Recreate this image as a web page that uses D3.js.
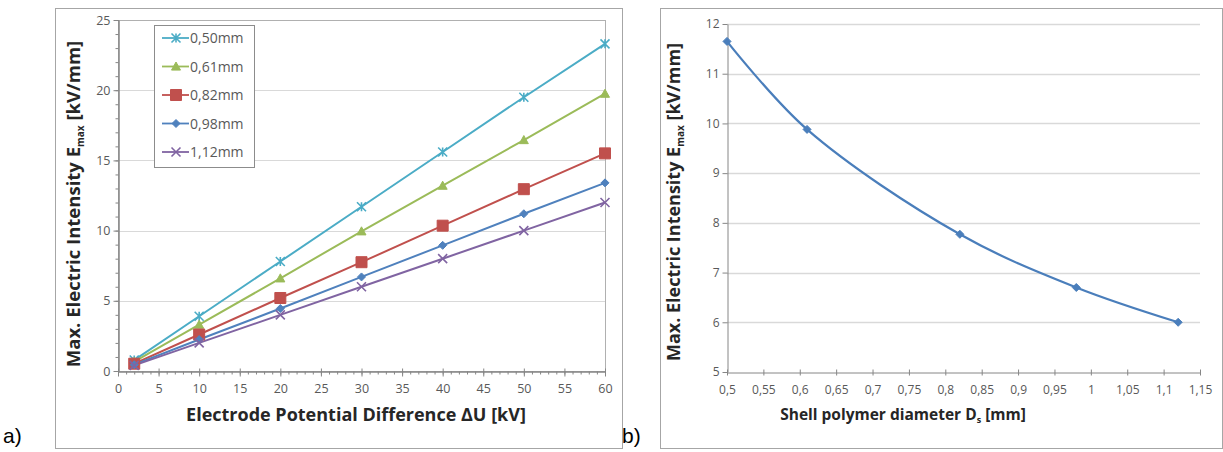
<!DOCTYPE html>
<html>
<head>
<meta charset="utf-8">
<script src="https://cdn.jsdelivr.net/npm/d3@7"></script>
<style>
  body { margin: 0; background: #fff; }
  svg { display: block; }
  text { font-family: "Open Sans", sans-serif; }
</style>
</head>
<body>
<svg width="1223" height="452"></svg>
<script>
// panel a) data: voltage vs max intensity for each shell diameter
const voltages = [2, 10, 20, 30, 40, 50, 60]
const seriesNames = ["0,50mm", "0,61mm", "0,82mm", "0,98mm", "1,12mm"]
const e050 = [0.78, 3.9, 7.8, 11.7, 15.6, 19.5, 23.3]
const e061 = [0.66, 3.3, 6.6, 9.95, 13.2, 16.45, 19.75]
const e082 = [0.52, 2.6, 5.2, 7.75, 10.35, 12.95, 15.5]
const e098 = [0.45, 2.24, 4.45, 6.7, 8.95, 11.2, 13.4]
const e112 = [0.4, 2.0, 4.0, 6.0, 8.0, 10.0, 12.0]
const seriesColors = ["#4bacc6", "#9bbb59", "#c0504d", "#4f81bd", "#8064a2"]
const seriesMarkers = ["star", "triangle", "square", "diamond", "cross"]

// panel b) data: diameter vs max intensity
const diameters = [0.5, 0.61, 0.82, 0.98, 1.12]
const emaxB = [11.65, 9.88, 7.77, 6.70, 6.0]
const xTicksB = [0.5, 0.55, 0.6, 0.65, 0.7, 0.75, 0.8, 0.85, 0.9, 0.95, 1, 1.05, 1.1, 1.15]

const svg = d3.select("svg")
const axisCol = "#868686"
const gridCol = "#d9d9d9"
const labelCol = "#595959"
const comma = (d) => String(+d.toFixed(2)).replace(".", ",")

// panel frames
svg.append("rect").attr("x", 55.5).attr("y", 8.5).attr("width", 567).attr("height", 440)
  .attr("fill", "#fff").attr("stroke", "#a6a6a6")
svg.append("rect").attr("x", 660.5).attr("y", 8.5).attr("width", 562).attr("height", 440)
  .attr("fill", "#fff").attr("stroke", "#a6a6a6")

svg.append("text").attr("x", 3).attr("y", 443)
  .attr("font-size", 21).attr("fill", "#000").style("font-family", "Liberation Sans, Arial").text("a)")
svg.append("text").attr("x", 622).attr("y", 443)
  .attr("font-size", 21).attr("fill", "#000").style("font-family", "Liberation Sans, Arial").text("b)")

const markerPath = (type, s) => {
  const h = s / 2
  if (type === "square") return `M${-h},${-h}H${h}V${h}H${-h}Z`
  if (type === "triangle") return `M0,${-h}L${h},${h * 0.8}L${-h},${h * 0.8}Z`
  if (type === "diamond") return `M0,${-h}L${h},0L0,${h}L${-h},0Z`
  if (type === "cross") return `M${-h},${-h}L${h},${h}M${-h},${h}L${h},${-h}`
  // star: x with vertical bar
  return `M${-h},${-h}L${h},${h}M${-h},${h}L${h},${-h}M0,${-h}V${h}`
}
const markerSize = { star: 9, triangle: 9, square: 11, diamond: 8, cross: 9 }
const drawMarker = (g, type, color, x, y) => {
  const filled = type === "square" || type === "triangle" || type === "diamond"
  g.append("path")
    .attr("transform", `translate(${x},${y})`)
    .attr("d", markerPath(type, markerSize[type]))
    .attr("fill", filled ? color : "none")
    .attr("stroke", color)
    .attr("stroke-width", filled ? 1 : 1.6)
}

// ---------- panel a ----------
const xA = d3.scaleLinear().domain([0, 60]).range([118, 605])
const yA = d3.scaleLinear().domain([0, 25]).range([371, 20])
const gA = svg.append("g")

gA.append("g").selectAll("line").data(d3.range(5, 26, 5)).join("line")
  .attr("x1", xA(0)).attr("x2", xA(60))
  .attr("y1", (d) => Math.round(yA(d)) + 0.5).attr("y2", (d) => Math.round(yA(d)) + 0.5)
  .attr("stroke", gridCol)
gA.append("rect").attr("x", xA(0) + 0.5).attr("y", Math.round(yA(25)) + 0.5)
  .attr("width", xA(60) - xA(0)).attr("height", yA(0) - yA(25))
  .attr("fill", "none").attr("stroke", "#b0b0b0")

const axBottomA = gA.append("g").attr("transform", `translate(0,${Math.round(yA(0)) + 0.5})`)
axBottomA.call(d3.axisBottom(xA).tickValues(d3.range(0, 61, 1)).tickSize(3).tickFormat(""))
axBottomA.append("g").call(d3.axisBottom(xA).tickValues(d3.range(0, 61, 5)).tickSize(5).tickSizeOuter(0))
  .call((g) => g.selectAll(".tick line").attr("y1", -3))
const axLeftA = gA.append("g").attr("transform", `translate(${Math.round(xA(0)) + 0.5},0)`)
axLeftA.call(d3.axisLeft(yA).tickValues(d3.range(0, 26, 1)).tickSize(3).tickFormat(""))
axLeftA.append("g").call(d3.axisLeft(yA).tickValues(d3.range(0, 26, 5)).tickSize(5).tickSizeOuter(0))
gA.selectAll(".domain").attr("stroke", axisCol)
gA.selectAll(".tick line").attr("stroke", axisCol)
gA.selectAll(".tick text").attr("fill", labelCol).attr("font-size", 12.5)
  .style("font-family", "Open Sans, sans-serif")
axBottomA.selectAll(".tick text").attr("dy", "1.1em")

const seriesA = [e050, e061, e082, e098, e112]
const lineA = d3.line().x((d, i) => xA(voltages[i])).y((d) => yA(d))
seriesA.forEach((vals, k) => {
  gA.append("path").attr("d", lineA(vals)).attr("fill", "none")
    .attr("stroke", seriesColors[k]).attr("stroke-width", 2)
})
seriesA.forEach((vals, k) => {
  vals.forEach((v, i) => drawMarker(gA, seriesMarkers[k], seriesColors[k], xA(voltages[i]), yA(v)))
})

// legend
const leg = gA.append("g")
leg.append("rect").attr("x", 154.5).attr("y", 25.5).attr("width", 100).attr("height", 142)
  .attr("fill", "#fff").attr("stroke", "#8c8c8c")
seriesNames.forEach((name, k) => {
  const y = 38 + k * 28.5
  leg.append("line").attr("x1", 162).attr("x2", 189).attr("y1", y).attr("y2", y)
    .attr("stroke", seriesColors[k]).attr("stroke-width", 1.8)
  drawMarker(leg, seriesMarkers[k], seriesColors[k], 176, y)
  leg.append("text").attr("x", 190).attr("y", y + 5).attr("font-size", 14)
    .attr("fill", labelCol).text(name)
})

gA.append("text").attr("x", 356).attr("y", 421).attr("text-anchor", "middle")
  .attr("font-size", 18).attr("font-weight", "bold").attr("fill", "#262626")
  .text("Electrode Potential Difference \u0394U [kV]")
const ytA = gA.append("text").attr("transform", "translate(80,204) rotate(-90)")
  .attr("text-anchor", "middle").attr("font-size", 18.5).attr("font-weight", "bold").attr("fill", "#262626")
ytA.append("tspan").text("Max. Electric Intensity E")
ytA.append("tspan").attr("font-size", 10).attr("dy", 4).text("max")
ytA.append("tspan").attr("dy", -4).text(" [kV/mm]")

// ---------- panel b ----------
const xB = d3.scaleLinear().domain([0.5, 1.15]).range([727, 1200])
const yB = d3.scaleLinear().domain([5, 12]).range([372, 24])
const gB = svg.append("g")

gB.append("g").selectAll("line").data(d3.range(6, 13, 1)).join("line")
  .attr("x1", xB(0.5)).attr("x2", xB(1.15))
  .attr("y1", (d) => Math.round(yB(d)) + 0.5).attr("y2", (d) => Math.round(yB(d)) + 0.5)
  .attr("stroke", gridCol).attr("stroke-width", 1.5)

const axBottomB = gB.append("g").attr("transform", `translate(0,${Math.round(yB(5)) + 0.5})`)
  .call(d3.axisBottom(xB).tickValues(xTicksB).tickSize(3).tickSizeOuter(0).tickFormat(comma))
axBottomB.selectAll(".tick line").attr("y1", -3)
const axLeftB = gB.append("g").attr("transform", `translate(${Math.round(xB(0.5)) + 0.5},0)`)
  .call(d3.axisLeft(yB).tickValues(d3.range(5, 13, 1)).tickSize(5).tickSizeOuter(0).tickFormat(d3.format("d")))
gB.selectAll(".domain").attr("stroke", axisCol)
gB.selectAll(".tick line").attr("stroke", axisCol)
gB.selectAll(".tick text").attr("fill", labelCol).attr("font-size", 12)
  .style("font-family", "Open Sans, sans-serif")
axBottomB.selectAll(".tick text").attr("dy", "1.3em")

const lineB = d3.line().x((d, i) => xB(diameters[i])).y((d) => yB(d)).curve(d3.curveCatmullRom.alpha(0.5))
gB.append("path").attr("d", lineB(emaxB)).attr("fill", "none")
  .attr("stroke", "#4a7ebb").attr("stroke-width", 2.2)
emaxB.forEach((v, i) => drawMarker(gB, "diamond", "#4a7ebb", xB(diameters[i]), yB(v)))

const xtB = gB.append("text").attr("x", 903).attr("y", 420).attr("text-anchor", "middle")
  .attr("font-size", 15.5).attr("font-weight", "bold").attr("fill", "#262626")
xtB.append("tspan").text("Shell polymer diameter D")
xtB.append("tspan").attr("font-size", 9).attr("dy", 3).text("s")
xtB.append("tspan").attr("dy", -3).text(" [mm]")
const ytB = gB.append("text").attr("transform", "translate(680,202) rotate(-90)")
  .attr("text-anchor", "middle").attr("font-size", 18).attr("font-weight", "bold").attr("fill", "#262626")
ytB.append("tspan").text("Max. Electric Intensity E")
ytB.append("tspan").attr("font-size", 10).attr("dy", 4).text("max")
ytB.append("tspan").attr("dy", -4).text(" [kV/mm]")
</script>
</body>
</html>
